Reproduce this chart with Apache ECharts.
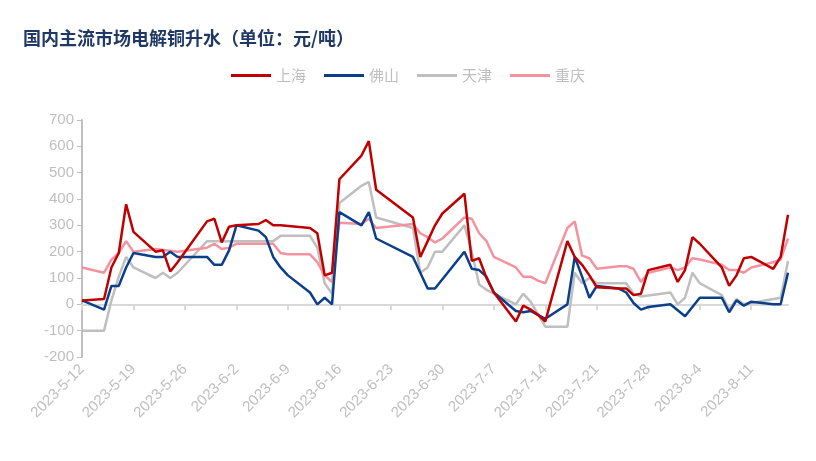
<!DOCTYPE html>
<html><head><meta charset="utf-8">
<script src="https://cdn.jsdelivr.net/npm/echarts@6/dist/echarts.min.js"></script>
<style>html,body{margin:0;padding:0;background:#fff}#c{width:816px;height:461px}</style>
</head><body><div id="c"></div>
<script>
const seriesNames = ['上海','佛山','天津','重庆'];
const colors = ['#C00000','#0B3F8A','#BFBFBF','#F4939F'];
const startDate = '2023-05-12', dayCount = 97;
// values as [month-day, value]
const shanghai = [['5-12',15],['5-15',20],['5-16',140],['5-17',195],['5-18',380],['5-19',275],['5-22',200],['5-23',205],['5-24',125],['5-25',160],['5-29',315],['5-30',325],['5-31',235],['6-1',295],['6-2',300],['6-5',305],['6-6',320],['6-7',300],['6-8',300],['6-12',290],['6-13',270],['6-14',110],['6-15',120],['6-16',475],['6-19',565],['6-20',620],['6-21',435],['6-26',330],['6-27',180],['6-28',240],['6-29',300],['6-30',345],['7-3',420],['7-4',165],['7-5',175],['7-6',100],['7-7',45],['7-10',-65],['7-11',-5],['7-12',-20],['7-13',-40],['7-14',-65],['7-17',240],['7-18',180],['7-19',150],['7-20',110],['7-21',65],['7-24',60],['7-25',60],['7-26',35],['7-27',40],['7-28',130],['7-31',150],['8-1',85],['8-2',130],['8-3',255],['8-4',230],['8-7',140],['8-8',70],['8-9',110],['8-10',175],['8-11',180],['8-14',135],['8-15',180],['8-16',340]];
const foshan = [['5-12',15],['5-15',-20],['5-16',70],['5-17',70],['5-18',140],['5-19',195],['5-22',180],['5-23',180],['5-24',200],['5-25',180],['5-29',180],['5-30',150],['5-31',150],['6-1',205],['6-2',300],['6-5',280],['6-6',255],['6-7',180],['6-8',140],['6-9',110],['6-12',45],['6-13',0],['6-14',25],['6-15',0],['6-16',350],['6-19',300],['6-20',350],['6-21',250],['6-26',180],['6-27',120],['6-28',60],['6-29',60],['7-3',200],['7-4',135],['7-5',130],['7-6',105],['7-7',45],['7-10',-25],['7-11',-30],['7-12',-25],['7-14',-55],['7-17',0],['7-18',180],['7-19',105],['7-20',25],['7-21',70],['7-24',60],['7-25',45],['7-26',5],['7-27',-20],['7-28',-10],['7-31',0],['8-2',-45],['8-4',25],['8-7',25],['8-8',-30],['8-9',15],['8-10',-5],['8-11',10],['8-14',0],['8-15',0],['8-16',120]];
const tianjin = [['5-12',-100],['5-15',-100],['5-16',15],['5-17',105],['5-18',180],['5-19',140],['5-22',100],['5-23',120],['5-24',100],['5-25',120],['5-29',240],['5-30',240],['6-7',240],['6-8',260],['6-12',260],['6-13',215],['6-14',80],['6-15',40],['6-16',385],['6-19',450],['6-20',465],['6-21',330],['6-26',290],['6-27',120],['6-28',140],['6-29',200],['6-30',200],['7-3',300],['7-4',200],['7-5',75],['7-6',55],['7-10',0],['7-11',40],['7-12',10],['7-14',-85],['7-17',-85],['7-18',120],['7-19',80],['7-20',100],['7-21',80],['7-25',80],['7-26',40],['7-27',30],['7-31',45],['8-1',0],['8-2',25],['8-3',120],['8-4',80],['8-7',35],['8-8',-20],['8-9',20],['8-10',0],['8-15',25],['8-16',165]];
const chongqing = [['5-12',140],['5-15',120],['5-16',170],['5-17',195],['5-18',240],['5-19',200],['5-22',210],['5-25',200],['5-29',215],['5-30',230],['5-31',210],['6-1',215],['6-2',230],['6-7',230],['6-8',195],['6-9',190],['6-12',190],['6-13',160],['6-14',110],['6-15',85],['6-16',310],['6-19',305],['6-20',325],['6-21',290],['6-26',305],['6-27',270],['6-28',255],['6-29',235],['6-30',250],['7-3',330],['7-4',325],['7-5',270],['7-6',240],['7-7',180],['7-10',140],['7-11',105],['7-12',105],['7-13',90],['7-14',80],['7-17',290],['7-18',315],['7-19',185],['7-20',175],['7-21',135],['7-24',145],['7-25',145],['7-26',135],['7-27',85],['7-28',120],['7-31',140],['8-1',130],['8-2',140],['8-3',175],['8-4',170],['8-7',150],['8-8',130],['8-9',130],['8-10',120],['8-11',140],['8-14',160],['8-15',170],['8-16',250]];
const yTicks = {min:-200, max:700, interval:100};

const days = [];
const d0 = new Date(startDate + 'T00:00:00Z');
for (let i = 0; i < dayCount; i++) {
  const d = new Date(d0.getTime() + i*86400000);
  days.push(d.getUTCFullYear() + '-' + (d.getUTCMonth()+1) + '-' + d.getUTCDate());
}
const toData = arr => arr.map(([md, v]) => ['2023-' + md, v]);
const all = [shanghai, foshan, tianjin, chongqing];

const chart = echarts.init(document.getElementById('c'));
chart.setOption({
  animation:false,
  color: colors,
  title:{text:'国内主流市场电解铜升水（单位：元/吨）', left:18, top:24,
    textStyle:{fontFamily:'Noto Sans CJK SC', fontWeight:'bold', fontSize:18, color:'#1F3864'}},
  legend:{top:63, left:'center', itemWidth:40, itemHeight:3, itemGap:18, icon:'rect',
    textStyle:{color:'#BFBFBF', fontSize:15, fontFamily:'Noto Sans CJK SC'}},
  grid:{left:82, right:28, top:120, bottom:104},
  xAxis:[{type:'category', data:days, boundaryGap:false,
    axisLine:{show:false, onZero:false}, axisTick:{show:false},
    axisLabel:{interval:6, rotate:45, color:'#BFBFBF', fontSize:15, fontFamily:'Liberation Sans', margin:10}},
    {type:'category', data:days, boundaryGap:false, position:'bottom',
    axisLine:{onZero:true, lineStyle:{color:'#D9D9D9', width:2}},
    axisTick:{show:true, interval:6, length:6, lineStyle:{color:'#D9D9D9', width:2}},
    axisLabel:{show:false}}],
  yAxis:{type:'value', min:yTicks.min, max:yTicks.max, interval:yTicks.interval,
    axisLine:{show:true, lineStyle:{color:'#BFBFBF', width:2}},
    axisTick:{show:true, length:5, lineStyle:{color:'#BFBFBF'}},
    splitLine:{show:false},
    axisLabel:{color:'#BFBFBF', fontSize:15, fontFamily:'Liberation Sans'}},
  series: all.map((arr,i)=>({name:seriesNames[i], type:'line', data:toData(arr),
    symbol:'none', lineStyle:{width:2.5}, z: i===0?5:(i===1?4:(i===3?3:2))}))
});
</script></body></html>
